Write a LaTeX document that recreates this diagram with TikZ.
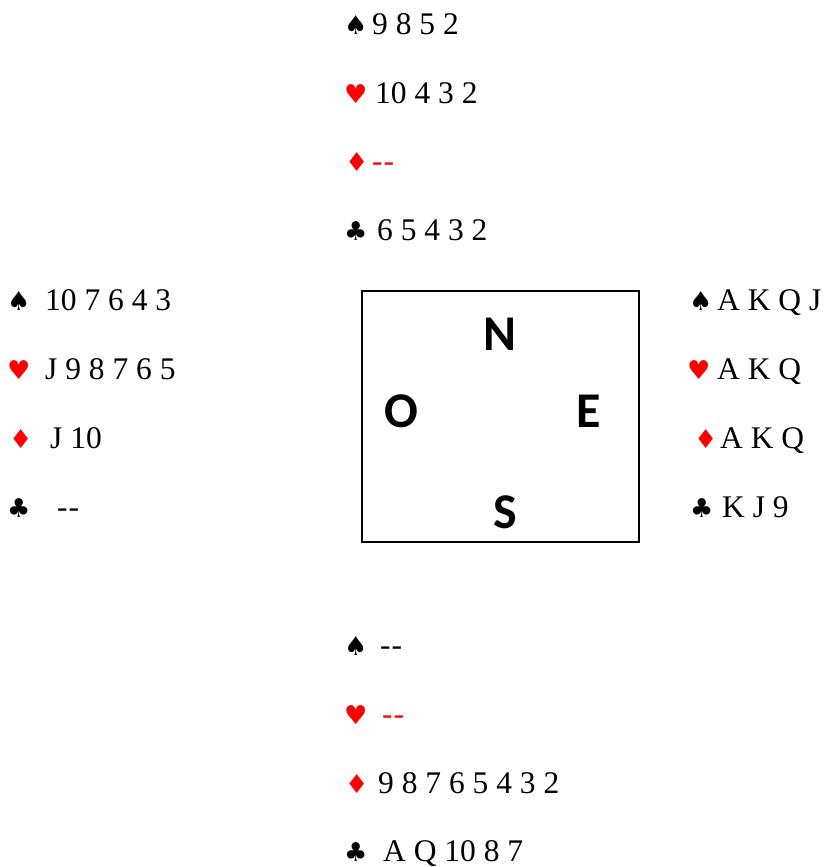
\documentclass[tikz,border=0pt]{standalone}
\usepackage{fontspec}
\setmainfont{Liberation Serif}
\newfontfamily\suitfont{DejaVu Sans}
\newfontfamily\boxfont{Carlito}
\definecolor{suitred}{RGB}{255,0,0}
\tikzset{
  cards/.style={anchor=base west, inner sep=0pt, font=\fontsize{31.5}{36}\selectfont},
  suit/.style={anchor=base west, inner sep=0pt, font=\suitfont\fontsize{26}{30}\selectfont},
  redsuit/.style={suit, text=suitred},
  compass/.style={anchor=base, inner sep=0pt, font=\boxfont\bfseries\fontsize{50}{56}\selectfont},
  table/.style={draw, line width=1.5pt}
}
\newcommand{\nocard}{\mbox{-}\kern1pt\mbox{-}}
\begin{document}
\begin{tikzpicture}[x=1pt,y=-1pt]
\useasboundingbox (0,0) rectangle (824,867);
% North
\node[suit] (ns) at (344,35) {♠};
\node[cards] (nst) at (372,35) {9 8 5 2};
\node[redsuit] (nh) at (344,103) {♥};
\node[cards] (nht) at (375,103) {10 4 3 2};
\node[redsuit] (nd) at (345,171) {♦};
\node[cards, text=suitred] (ndt) at (372,171) {\nocard};
\node[suit] (nc) at (344,240) {♣};
\node[cards] (nct) at (377,240) {6 5 4 3 2};
% West
\node[suit] (ws) at (7,310) {♠};
\node[cards] (wst) at (45,310) {10 7 6 4 3};
\node[redsuit] (wh) at (7,379) {♥};
\node[cards] (wht) at (45,379) {J 9 8 7 6 5};
\node[redsuit] (wd) at (9,448) {♦};
\node[cards] (wdt) at (50,448) {J 10};
\node[suit] (wc) at (7,517) {♣};
\node[cards] (wct) at (57,517) {\nocard};
% East
\node[suit] (es) at (689,310) {♠};
\node[cards] (est) at (717,310) {A K Q J};
\node[redsuit] (eh) at (687,379) {♥};
\node[cards] (eht) at (717,379) {A K Q};
\node[redsuit] (ed) at (694,448) {♦};
\node[cards] (edt) at (720,448) {A K Q};
\node[suit] (ec) at (690,517) {♣};
\node[cards] (ect) at (722,517) {K J 9};
% South
\node[suit] (ss) at (344,655) {♠};
\node[cards] (sst) at (380,655) {\nocard};
\node[redsuit] (sh) at (344,724) {♥};
\node[cards, text=suitred] (sht) at (382,724) {\nocard};
\node[redsuit] (sd) at (345,793) {♦};
\node[cards] (sdt) at (378,793) {9 8 7 6 5 4 3 2};
\node[suit] (sc) at (344,861) {♣};
\node[cards] (sct) at (383,861) {A Q 10 8 7};
% Table
\draw[table] (362,291) rectangle (639,542);
\node[compass] (N) at (500,350) {N};
\node[compass] (O) at (401,427) {O};
\node[compass] (E) at (589,427) {E};
\node[compass] (S) at (505,528) {S};
\end{tikzpicture}
\end{document}
